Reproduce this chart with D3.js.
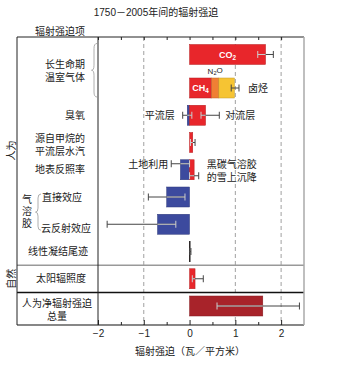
<!DOCTYPE html>
<html>
<head>
<meta charset="utf-8">
<script src="https://cdn.jsdelivr.net/npm/d3@7"></script>
<style>
  html, body { margin: 0; padding: 0; background: #fff; }
  svg { display: block; }
  text { font-family: "Liberation Sans", "Noto Sans CJK SC", sans-serif; fill: #222; }
</style>
</head>
<body>
<svg id="chart" width="347" height="377"></svg>
<script>
// Radiative forcing terms, 1750–2005 (W/m²)
const rowKeys = ["co2", "ch4", "ozone", "h2o", "albedo", "direct", "cloud", "contrail", "solar", "total"];

const termLabelLines = [["长生命期", "温室气体"], ["臭氧"], ["源自甲烷的", "平流层水汽"], ["地表反照率"],
  ["直接效应"], ["云反射效应"], ["线性凝结尾迹"], ["太阳辐照度"], ["人为净辐射强迫", "总量"]];
const termRows = [["co2", "ch4"], ["ozone"], ["h2o"], ["albedo"], ["direct"], ["cloud"], ["contrail"], ["solar"], ["total"]];

const componentNames = ["CO₂", "CH₄", "N₂O", "卤烃", "平流层臭氧", "对流层臭氧", "平流层水汽", "土地利用",
  "黑碳气溶胶的雪上沉降", "直接效应", "云反射效应", "线性凝结尾迹", "太阳辐照度", "人为净辐射强迫总量"];
const componentRows = ["co2", "ch4", "ch4", "ch4", "ozone", "ozone", "h2o", "albedo", "albedo",
  "direct", "cloud", "contrail", "solar", "total"];
const componentValues = [1.66, 0.48, 0.16, 0.34, -0.05, 0.35, 0.07, -0.20, 0.10, -0.50, -0.70, 0.01, 0.12, 1.60];

const errorNames = ["CO₂", "温室气体合计", "平流层臭氧", "对流层臭氧", "平流层水汽", "土地利用",
  "黑碳气溶胶的雪上沉降", "直接效应", "云反射效应", "线性凝结尾迹", "太阳辐照度", "人为净辐射强迫总量"];
const errorRows = ["co2", "ch4", "ozone", "ozone", "h2o", "albedo", "albedo", "direct", "cloud", "contrail", "solar", "total"];
const errorLow = [1.49, 0.91, -0.15, 0.25, 0.02, -0.40, 0.00, -0.90, -1.80, 0.003, 0.06, 0.60];
const errorHigh = [1.83, 1.08, 0.05, 0.65, 0.12, 0.00, 0.20, -0.10, -0.30, 0.03, 0.30, 2.40];

const xTickValues = [-2, -1, 0, 1, 2];
const xMinorTickValues = [-1.5, -0.5, 0.5, 1.5];
const gridValues = [-1, 1, 2];

// ---- layout ----
const svg = d3.select("#chart");
const frame = { left: 17, divider: 98, right: 304, top: 37, bottom: 325 };
const barH = 20;

const x = d3.scaleLinear().domain([-2, 2.5]).range([frame.divider, frame.right]);
const yPts = d3.scalePoint().domain(rowKeys.slice(1)).range([88, 306]);
const yRow = k => k === "co2" ? yPts("ch4") - yPts.step() * 1.23 : yPts(k);

const color = d3.scaleOrdinal()
  .domain(componentNames)
  .range(["#e8262b", "#e8262b", "#f07f34", "#f6c433", "#3c4a9e", "#e8262b", "#e8262b", "#3c4a9e",
          "#e8262b", "#3c4a9e", "#3c4a9e", "#e8262b", "#e8262b", "#a8232a"]);

// stack components within each row (positive and negative separately)
const posAcc = {}, negAcc = {};
const segments = componentNames.map((name, i) => {
  const row = componentRows[i], v = componentValues[i];
  let x0, x1;
  if (v >= 0) { x0 = posAcc[row] || 0; x1 = x0 + v; posAcc[row] = x1; }
  else { x1 = negAcc[row] || 0; x0 = x1 + v; negAcc[row] = x0; }
  return { name, row, v, x0, x1 };
});

svg.append("rect").attr("width", 347).attr("height", 377).attr("fill", "#fff");

// title
svg.append("text").attr("x", 156).attr("y", 16).attr("text-anchor", "middle")
  .attr("font-size", 10).text("1750－2005年间的辐射强迫");
svg.append("text").attr("x", 35).attr("y", 35).attr("font-size", 10).text("辐射强迫项");

// dashed grid
svg.append("g").selectAll("line").data(gridValues).join("line")
  .attr("x1", d => x(d)).attr("x2", d => x(d))
  .attr("y1", frame.top).attr("y2", frame.bottom)
  .attr("stroke", "#888").attr("stroke-width", 0.8).attr("stroke-dasharray", "4,3");

// bars
svg.append("g").selectAll("rect").data(segments).join("rect")
  .attr("x", d => x(d.x0))
  .attr("width", d => Math.max(0, x(d.x1) - x(d.x0)))
  .attr("y", d => yRow(d.row) - barH / 2)
  .attr("height", barH)
  .attr("fill", d => color(d.name))
  .attr("stroke", d => d.row === "contrail" ? "#222" : d3.color(color(d.name)).darker(0.7))
  .attr("stroke-width", d => d.row === "contrail" ? 1 : 0.5);

// error bars: dark outside the bars, light where they cross a dark bar
const errorOffset = { "土地利用": -6, "黑碳气溶胶的雪上沉降": 6 };
const isDark = c => d3.lab(c).l < 62;
const segAt = (row, v) => segments.find(s => s.row === row && v >= s.x0 - 1e-9 && v <= s.x1 + 1e-9 && s.x1 - s.x0 > 0.02);
const eg = svg.append("g");
errorNames.forEach((name, i) => {
  const row = errorRows[i];
  const yy = yRow(row) + (errorOffset[name] || 0);
  const lo = errorLow[i], hi = errorHigh[i];
  eg.append("line").attr("x1", x(lo)).attr("x2", x(hi)).attr("y1", yy).attr("y2", yy)
    .attr("stroke", "#444").attr("stroke-width", 1);
  segments.filter(s => s.row === row && isDark(color(s.name))).forEach(s => {
    const a = Math.max(lo, s.x0), b = Math.min(hi, s.x1);
    if (b > a) eg.append("line").attr("x1", x(a)).attr("x2", x(b)).attr("y1", yy).attr("y2", yy)
      .attr("stroke", "#cfcfcf").attr("stroke-width", 1);
  });
  [lo, hi].forEach(v => {
    const s = segAt(row, v);
    const c = s && isDark(color(s.name)) ? "#cfcfcf" : "#444";
    eg.append("line").attr("x1", x(v)).attr("x2", x(v)).attr("y1", yy - 3.5).attr("y2", yy + 3.5)
      .attr("stroke", c).attr("stroke-width", 1);
  });
});

// in-bar and side annotations
const ann = svg.append("g").attr("font-size", 10);
const segByName = n => segments.find(s => s.name === n);
const errIdx = n => errorNames.indexOf(n);

function chem(g, xPos, yPos, base, sub, tail, fill, size, bold) {
  const t = g.append("text").attr("x", xPos).attr("y", yPos).attr("text-anchor", "middle")
    .attr("dy", "0.35em").attr("font-size", size).attr("font-weight", bold ? "bold" : "normal")
    .style("fill", fill);
  t.append("tspan").text(base);
  t.append("tspan").attr("font-size", size * 0.7).attr("dy", "0.3em").text(sub);
  if (tail) t.append("tspan").attr("dy", "-0.3em").text(tail);
  return t;
}
const sCO2 = segByName("CO₂"), sCH4 = segByName("CH₄"), sN2O = segByName("N₂O"), sHalo = segByName("卤烃");
chem(ann, x((sCO2.x0 + sCO2.x1) / 2), yRow("co2"), "CO", "2", "", "#fff", 9, true);
chem(ann, x((sCH4.x0 + sCH4.x1) / 2), yRow("ch4"), "CH", "4", "", "#fff", 9, true);
chem(ann, x((sN2O.x0 + sN2O.x1) / 2), yRow("ch4") - barH / 2 - 7, "N", "2", "O", "#222", 8, false);
ann.append("text").attr("x", x(errorHigh[errIdx("温室气体合计")]) + 9).attr("y", yRow("ch4"))
  .attr("dy", "0.35em").text("卤烃");
ann.append("text").attr("x", x(errorLow[errIdx("平流层臭氧")]) - 8).attr("y", yRow("ozone"))
  .attr("dy", "0.35em").attr("text-anchor", "end").text("平流层");
ann.append("text").attr("x", x(errorHigh[errIdx("对流层臭氧")]) + 6).attr("y", yRow("ozone"))
  .attr("dy", "0.35em").text("对流层");
ann.append("text").attr("x", x(errorLow[errIdx("土地利用")]) - 3).attr("y", yRow("albedo") - 5)
  .attr("dy", "0.35em").attr("text-anchor", "end").text("土地利用");
const bcText = ann.append("text").attr("x", x(errorHigh[errIdx("黑碳气溶胶的雪上沉降")]) + 8)
  .attr("y", yRow("albedo") - 5).attr("dy", "0.35em");
bcText.append("tspan").text("黑碳气溶胶");
bcText.append("tspan").attr("x", x(errorHigh[errIdx("黑碳气溶胶的雪上沉降")]) + 8).attr("dy", 12.5).text("的雪上沉降");

// frame
const fr = svg.append("g");
const hline = (yy, c, w) => fr.append("line").attr("x1", frame.left).attr("x2", frame.right)
  .attr("y1", yy).attr("y2", yy).attr("stroke", c).attr("stroke-width", w);
hline(frame.top, "#222", 1);
hline(frame.bottom, "#111", 1.2);
hline((yRow("contrail") + yRow("solar")) / 2, "#999", 1.5);
hline((yRow("solar") + yRow("total")) / 2, "#111", 1.5);
fr.append("line").attr("x1", frame.left).attr("x2", frame.left).attr("y1", frame.top).attr("y2", frame.bottom)
  .attr("stroke", "#222").attr("stroke-width", 1);
fr.append("line").attr("x1", frame.divider).attr("x2", frame.divider).attr("y1", frame.top).attr("y2", frame.bottom)
  .attr("stroke", "#222").attr("stroke-width", 1);
fr.append("line").attr("x1", frame.right).attr("x2", frame.right).attr("y1", frame.top).attr("y2", frame.bottom)
  .attr("stroke", "#aaa").attr("stroke-width", 1.5);

// axes: inward ticks at bottom and top
const bottomAxis = svg.append("g").attr("transform", `translate(0,${frame.bottom})`)
  .call(d3.axisBottom(x).tickValues(xTickValues).tickSizeInner(-5).tickSizeOuter(0).tickPadding(5)
    .tickFormat(d3.format("d")));
bottomAxis.select(".domain").remove();
bottomAxis.selectAll("text").attr("font-size", 10).style("fill", "#222")
  .style("font-family", "'Liberation Sans', sans-serif");
bottomAxis.selectAll("line").attr("stroke", "#222");
const bottomMinor = svg.append("g").attr("transform", `translate(0,${frame.bottom})`)
  .call(d3.axisBottom(x).tickValues(xMinorTickValues).tickSizeInner(-3).tickSizeOuter(0).tickFormat(""));
bottomMinor.select(".domain").remove();
bottomMinor.selectAll("line").attr("stroke", "#222");
const topAxis = svg.append("g").attr("transform", `translate(0,${frame.top})`)
  .call(d3.axisTop(x).tickValues(xTickValues.concat(xMinorTickValues)).tickSizeInner(-3).tickSizeOuter(0).tickFormat(""));
topAxis.select(".domain").remove();
topAxis.selectAll("line").attr("stroke", "#222");

svg.append("text").attr("x", 190).attr("y", 355).attr("text-anchor", "middle").attr("font-size", 10)
  .text("辐射强迫（瓦／平方米）");

// term labels on the left
const labelAnchor = { contrail: ["end", 88], cloud: ["end", 91], direct: ["end", 82], total: ["middle", 57], solar: ["middle", 61] };
const lbl = svg.append("g").attr("font-size", 10);
termLabelLines.forEach((lines, i) => {
  const rows = termRows[i];
  let cy = d3.mean(rows, r => yRow(r));
  if (rows[0] === "cloud") cy += 4;
  if (rows[0] === "total") cy += 4;
  if (rows[0] === "h2o") cy += 2;
  const [anchor, ax] = labelAnchor[rows[0]] || ["end", 85];
  const lh = 13;
  const t = lbl.append("text").attr("text-anchor", anchor);
  lines.forEach((ln, j) => {
    t.append("tspan").attr("x", ax).attr("y", cy + (j - (lines.length - 1) / 2) * lh).attr("dy", "0.35em").text(ln);
  });
});

// braces
const brace = svg.append("g").attr("fill", "none").attr("stroke", "#999").attr("stroke-width", 0.8);
{
  const y0 = yRow("co2") - barH / 2 - 1, y1 = yRow("ch4") + barH / 2 - 1, ym = (y0 + y1) / 2;
  brace.append("path").attr("d",
    `M97,${y0} Q94,${y0} 94,${y0 + 5} L94,${ym - 5} Q94,${ym} 91.5,${ym} Q94,${ym} 94,${ym + 5} L94,${y1 - 5} Q94,${y1} 97,${y1}`);
}
{
  const y0 = yRow("direct") - 3, y1 = yRow("cloud") + 6, ym = (y0 + y1) / 2;
  brace.append("path").attr("d",
    `M41,${y0} Q38,${y0} 38,${y0 + 4} L38,${ym - 4} Q38,${ym} 35.5,${ym} Q38,${ym} 38,${ym + 4} L38,${y1 - 4} Q38,${y1} 41,${y1}`);
}
const aer = svg.append("g").attr("font-size", 10).attr("text-anchor", "middle");
["气", "溶", "胶"].forEach((c, j) => {
  aer.append("text").attr("x", 27).attr("y", yRow("direct") + 2 + j * 12).attr("dy", "0.35em").text(c);
});

// group labels (rotated)
svg.append("text").attr("transform", `translate(11,${yRow("h2o") + 8}) rotate(-90)`)
  .attr("text-anchor", "middle").attr("dy", "0.35em").attr("font-size", 10).text("人为");
svg.append("text").attr("transform", `translate(11,${yRow("solar")}) rotate(-90)`)
  .attr("text-anchor", "middle").attr("dy", "0.35em").attr("font-size", 10).text("自然");
</script>
</body>
</html>
